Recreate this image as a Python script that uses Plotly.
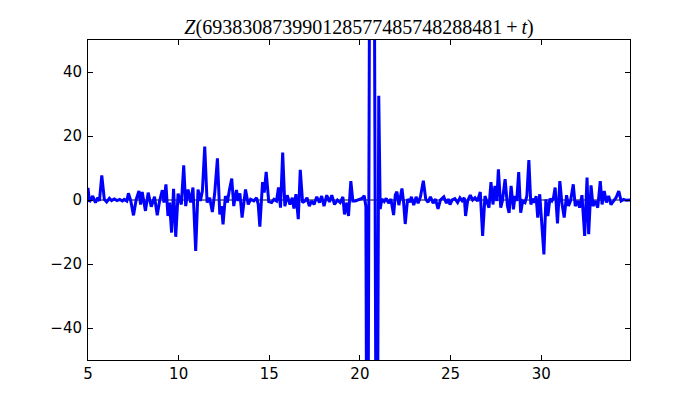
import plotly.graph_objects as go

t_vals = [5.0, 5.08, 5.26, 5.41, 5.54, 5.63, 5.76, 5.9, 6.03, 6.18, 6.3, 6.45, 6.6, 6.75, 6.9, 7.0,
          7.14, 7.23, 7.36, 7.51, 7.66, 7.81, 7.9, 7.99, 8.17, 8.32, 8.49, 8.67, 8.82, 8.95,
          9.1, 9.19, 9.3, 9.41, 9.5, 9.61, 9.72, 9.84, 9.97, 10.15, 10.28, 10.39, 10.52, 10.66,
          10.79, 10.94, 11.07, 11.2, 11.31, 11.44, 11.57, 11.71, 11.86, 11.99, 12.14, 12.27,
          12.36, 12.45, 12.58, 12.69, 12.79, 12.93, 13.04, 13.19, 13.28, 13.38, 13.5, 13.69,
          13.84, 13.97, 14.15, 14.3, 14.39, 14.48, 14.63, 14.72, 14.83, 14.97, 15.13, 15.26,
          15.4, 15.51, 15.62, 15.74, 15.86, 15.99, 16.14, 16.27, 16.36, 16.47, 16.6, 16.71,
          16.84, 16.97, 17.08, 17.21, 17.34, 17.47, 17.62, 17.77, 17.89, 18.02, 18.17, 18.32,
          18.45, 18.6, 18.76, 18.91, 19.06, 19.15, 19.28, 19.37, 19.5, 19.61, 19.74, 19.92,
          20.11, 20.24, 20.33, 20.41, 20.66, 20.93, 21.04, 21.12, 21.21, 21.34, 21.45, 21.58,
          21.71, 21.86, 21.95, 22.04, 22.15, 22.32, 22.41, 22.5, 22.63, 22.75, 22.84, 22.97,
          23.1, 23.21, 23.34, 23.5, 23.63, 23.76, 23.89, 24.04, 24.17, 24.31, 24.44, 24.63,
          24.77, 24.88, 24.97, 25.09, 25.24, 25.39, 25.52, 25.64, 25.76, 25.83, 25.94, 26.09,
          26.22, 26.35, 26.49, 26.64, 26.77, 26.9, 27.01, 27.12, 27.23, 27.34, 27.45, 27.55,
          27.64, 27.77, 27.86, 28.01, 28.14, 28.23, 28.34, 28.47, 28.56, 28.65, 28.76, 28.87,
          28.98, 29.11, 29.21, 29.32, 29.43, 29.52, 29.63, 29.72, 29.81, 29.92, 30.15, 30.26,
          30.37, 30.48, 30.59, 30.68, 30.77, 30.9, 31.03, 31.14, 31.27, 31.4, 31.51, 31.62,
          31.77, 31.88, 32.01, 32.12, 32.25, 32.4, 32.53, 32.62, 32.75, 32.86, 32.99, 33.12,
          33.26, 33.36, 33.48, 33.6, 33.72, 33.85, 34.0, 34.13, 34.28, 34.41, 34.55, 34.68, 34.92]

z_vals = [3.8, -0.6, 1.25, -0.8, 0.7, -0.3, 7.7, 0.2, -0.6, 0.5, -0.2, 0.3, -0.2, 0.2, -0.3, 0.2,
          -0.3, 2.1, -0.3, -4.8, 0.2, 2.8, -1.4, 2.5, -3.4, 2.3, -2.1, 1.0, -4.8, -0.3,
          3.1, -0.8, 4.9, -5.0, -0.8, -10.2, 3.5, -11.5, 2.0, -1.4, 10.8, -1.9, 3.3, -0.8,
          3.9, -15.9, 3.3, -0.3, 2.8, 16.7, -0.8, 0.7, -3.75, 2.1, 13.0, -4.5,
          -1.9, -7.6, 1.25, -0.8, 2.8, 6.7, -1.9, 3.1, -0.3, 2.1, -5.5, 3.3,
          -1.4, 0.2, -0.3, 0.7, -1.4, -8.3, 5.6, 2.3, 8.75, -0.5, -0.8, 0.2,
          -0.3, 3.9, -2.4, 14.8, -1.9, 1.5, -1.4, 0.7, -2.7, 1.8, -6.0, 9.4,
          -0.8, -0.3, 0.7, -1.9, -0.3, -1.4, 1.0, -0.8, 1.25, -1.9, 1.5, -0.6,
          1.5, -1.4, 0.0, -0.8, 1.0, -4.5, -0.8, -5.0, 5.9, -0.3, -0.3, 0.0,
          0.5, 1.3, -2.0, -150.0, 300.0, -150.0, 32.6, -2.8, 0.3, -0.5, 0.5, -1.0,
          0.3, -4.7, 1.5, 2.6, -1.6, 3.6, -0.7, -7.5, 0.3, -0.7, 1.0, -1.6,
          1.0, -1.0, 1.0, 6.0, 0.3, -0.7, 1.0, -1.0, 0.3, -2.8, 0.0, 1.0,
          -1.0, 0.3, -1.4, 0.0, 0.4, -0.8, 0.7, -0.2, 0.7, -5.0, -0.3, 1.5,
          0.0, 0.7, -0.3, 2.5, -11.25, 1.25, -0.8, -2.4, 5.6, -1.4, 4.4, -0.3,
          9.6, -2.4, -0.3, 6.5, -1.9, -4.0, 4.4, -2.9, 1.25, -0.3, 8.75, -4.0,
          -0.3, -0.8, 1.25, 12.5, -1.4, 0.4, -0.8, 1.25, -5.5, 1.8, -17.0, 0.2,
          -5.0, 0.4, -0.3, 0.7, 3.9, -7.3, 5.9, -0.8, -5.5, 1.5, -1.9, -0.3,
          4.9, -1.9, -0.3, -2.4, 1.5, -11.25, 7.0, -10.7, 4.6, -1.9, -0.3, -2.4,
          5.9, -1.4, 2.8, -0.8, 1.25, -1.4, -0.3, 0.7, 2.8, -0.3, 0.2, -0.1, 0.0]

x_ticks = [5, 10, 15, 20, 25, 30]
y_ticks = [-40, -20, 0, 20, 40]
x_range = [5, 34.9]
y_range = [-50, 50]
title_text = "<i>Z</i>(693830873990128577485748288481\u2009+\u2009<i>t</i>)"

# the page body has an 8px default margin, so the figure is 8px smaller and margins shifted
W, H = 692, 392

fig = go.Figure()
fig.add_trace(go.Scatter(x=t_vals, y=z_vals, mode="lines",
                         line=dict(color="#0000ff", width=3), showlegend=False))
fig.add_shape(type="line", xref="x", yref="y", x0=x_range[0], x1=x_range[1], y0=0, y1=0,
              line=dict(color="black", width=1), layer="below")

axis_common = dict(showline=True, linecolor="black", linewidth=1, mirror="allticks",
                   ticks="inside", ticklen=5, tickcolor="black", tickwidth=1,
                   showgrid=False, zeroline=False,
                   tickfont=dict(family="DejaVu Sans", size=15, color="black"))
fig.update_xaxes(range=x_range, tickvals=x_ticks, **axis_common)
fig.update_yaxes(range=y_range, tickvals=y_ticks, ticklabelstandoff=2, **axis_common)

fig.update_layout(
    width=W, height=H, autosize=False,
    margin=dict(l=80, r=70, t=32, b=40),
    paper_bgcolor="white", plot_bgcolor="white",
    title=dict(text=title_text, x=351 / W, xanchor="center",
               y=1 - 19 / H, yref="container", yanchor="middle",
               font=dict(family="Liberation Serif", size=20, color="black")),
)
fig.write_html("out.html")
